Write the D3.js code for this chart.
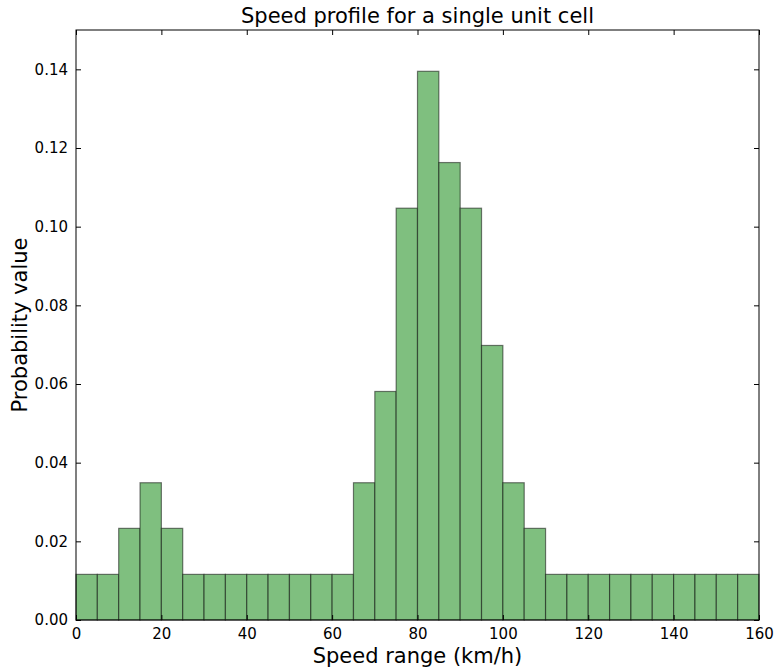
<!DOCTYPE html>
<html>
<head>
<meta charset="utf-8">
<script src="https://cdn.jsdelivr.net/npm/d3@7"></script>
<style>
  body { margin: 0; background: #fff; }
  text { font-family: "DejaVu Sans", sans-serif; fill: #000; }
</style>
</head>
<body>
<div class="canvas"></div>
<script>
// bin edges (km/h) and probability per 5 km/h bin
const binStarts = [0, 5, 10, 15, 20, 25, 30, 35, 40, 45, 50, 55, 60, 65, 70, 75,
  80, 85, 90, 95, 100, 105, 110, 115, 120, 125, 130, 135, 140, 145, 150, 155];
const binWidth = 5;
const probs = [0.0116, 0.0116, 0.0233, 0.0349, 0.0233, 0.0116, 0.0116, 0.0116,
  0.0116, 0.0116, 0.0116, 0.0116, 0.0116, 0.0349, 0.0581, 0.1047,
  0.1395, 0.1163, 0.1047, 0.0698, 0.0349, 0.0233, 0.0116, 0.0116,
  0.0116, 0.0116, 0.0116, 0.0116, 0.0116, 0.0116, 0.0116, 0.0116];
const xTicks = [0, 20, 40, 60, 80, 100, 120, 140, 160];
const yTicks = [0, 0.02, 0.04, 0.06, 0.08, 0.10, 0.12, 0.14];

const width = 774, height = 670;
const margin = {top: 30, right: 15, bottom: 50, left: 76};
const graphWidth = width - margin.left - margin.right;
const graphHeight = height - margin.top - margin.bottom;

const svg = d3.select('.canvas')
  .append('svg')
    .attr('width', width)
    .attr('height', height);

const graph = svg.append('g')
  .attr('transform', `translate(${margin.left},${margin.top})`);

const x = d3.scaleLinear().domain([0, 160]).range([0, graphWidth]);
const y = d3.scaleLinear().domain([0, 0.15]).range([graphHeight, 0]);

// bars
graph.selectAll('rect.bar')
  .data(probs)
  .enter()
  .append('rect')
    .attr('class', 'bar')
    .attr('x', (d, i) => x(binStarts[i]))
    .attr('y', d => y(d))
    .attr('width', (d, i) => x(binStarts[i] + binWidth) - x(binStarts[i]))
    .attr('height', d => graphHeight - y(d))
    .style('fill', '#7fbf7f')
    .style('stroke', 'rgba(0,0,0,0.5)')
    .style('stroke-width', 1.2);

// axes with inward ticks on all four sides
const tickLen = 5;
const fmt = d3.format('.2f');

const xAxisGroup = graph.append('g').attr('transform', `translate(0,${graphHeight})`)
  .call(d3.axisBottom(x).tickValues(xTicks).tickSizeInner(-tickLen).tickSizeOuter(0).tickPadding(8));
const xTop = graph.append('g')
  .call(d3.axisTop(x).tickValues(xTicks).tickSizeInner(-tickLen).tickSizeOuter(0).tickFormat(''));
const yAxisGroup = graph.append('g')
  .call(d3.axisLeft(y).tickValues(yTicks).tickFormat(fmt).tickSizeInner(-tickLen).tickSizeOuter(0).tickPadding(8));
const yRight = graph.append('g').attr('transform', `translate(${graphWidth},0)`)
  .call(d3.axisRight(y).tickValues(yTicks).tickSizeInner(-tickLen).tickSizeOuter(0).tickFormat(''));

[xAxisGroup, xTop, yAxisGroup, yRight].forEach(g => {
  g.select('.domain').remove();
  g.selectAll('line').attr('stroke', '#000');
  g.selectAll('text').style('font-size', '15px').style('font-family', '"DejaVu Sans", sans-serif').attr('fill', '#000');
});

// frame
graph.append('rect')
  .attr('width', graphWidth)
  .attr('height', graphHeight)
  .attr('fill', 'none')
  .attr('stroke', '#000')
  .attr('stroke-width', 1);

// titles
svg.append('text')
  .attr('x', margin.left + graphWidth / 2)
  .attr('y', 23)
  .attr('text-anchor', 'middle')
  .style('font-size', '21px')
  .text('Speed profile for a single unit cell');

svg.append('text')
  .attr('x', margin.left + graphWidth / 2)
  .attr('y', 663)
  .attr('text-anchor', 'middle')
  .style('font-size', '21px')
  .text('Speed range (km/h)');

svg.append('text')
  .attr('transform', `translate(27,${margin.top + graphHeight / 2}) rotate(-90)`)
  .attr('text-anchor', 'middle')
  .style('font-size', '21px')
  .text('Probability value');
</script>
</body>
</html>
